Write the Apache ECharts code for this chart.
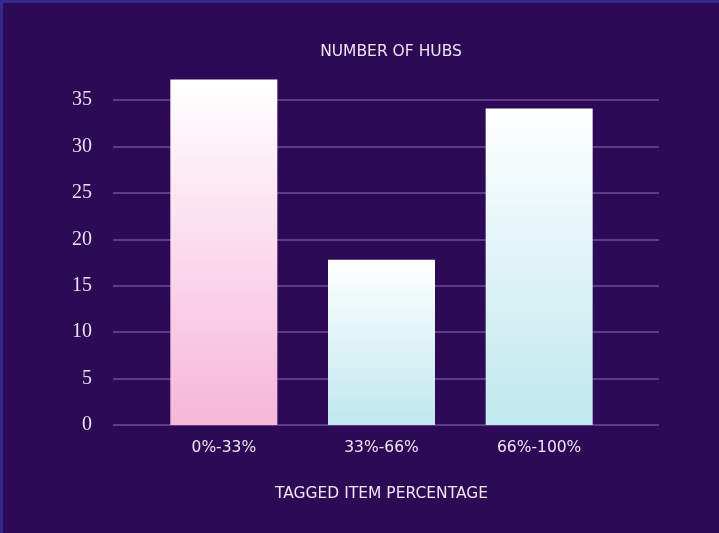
<!DOCTYPE html>
<html>
<head>
<meta charset="utf-8">
<script src="https://cdn.jsdelivr.net/npm/echarts@6/dist/echarts.min.js"></script>
<style>
  html, body { margin: 0; padding: 0; background: #2c0a55; }
  #hubsChart {
    width: 716px; height: 530px;
    border-left: 3px solid #33288f;
    border-top: 3px solid #33288f;
    background: #2c0a55;
  }
</style>
</head>
<body>
<div id="hubsChart"></div>
<script>
// data
const categories = ["0%-33%", "33%-66%", "66%-100%"];
const hubCounts = [37.2, 17.8, 34.1];
const yTicks = [0, 5, 10, 15, 20, 25, 30, 35];

// bar fills: white at the top, tint at the bottom
const barBottoms = ["#f6b6d9", "#bfe8ee", "#bfe8ee"];

let hubsChart = echarts.init(document.getElementById("hubsChart"));

let textFont = "DejaVu Sans";

let option = {
  backgroundColor: "#2c0a55",
  animation: false,
  title: {
    text: "NUMBER OF HUBS",
    left: 383,
    top: 36,
    textAlign: "center",
    textStyle: {
      color: "#f1e4f3",
      fontFamily: textFont,
      fontWeight: "normal",
      fontSize: 15.5,
    },
  },
  // grid 0 carries the gridlines, grid 1 the bars (taller so bars can pass 35)
  grid: [
    { left: 110, width: 546, top: 97, height: 325 },
    { left: 142, width: 473, top: 50.6, height: 371.4 },
  ],
  xAxis: [
    {
      gridIndex: 0,
      type: "value",
      min: 0,
      max: 1,
      show: false,
    },
    {
      gridIndex: 1,
      type: "category",
      data: categories,
      axisLine: { show: false },
      axisTick: { show: false },
      axisLabel: {
        color: "#f1e4f3",
        fontFamily: textFont,
        fontSize: 15.5,
        margin: 15,
      },
      name: "TAGGED ITEM PERCENTAGE",
      nameLocation: "middle",
      nameGap: 61,
      nameTextStyle: {
        color: "#f1e4f3",
        fontFamily: textFont,
        fontSize: 15.5,
      },
    },
  ],
  yAxis: [
    {
      gridIndex: 0,
      type: "value",
      min: yTicks[0],
      max: yTicks[yTicks.length - 1],
      interval: 5,
      axisLine: { show: false },
      axisTick: { show: false },
      axisLabel: {
        color: "#e9e0f0",
        fontFamily: "Liberation Serif",
        fontSize: 20,
        margin: 21,
      },
      splitLine: {
        lineStyle: { color: "#6b4f93", width: 1.5 },
      },
    },
    {
      gridIndex: 1,
      type: "value",
      min: 0,
      max: 40,
      interval: 5,
      show: false,
      splitLine: { show: false },
    },
  ],
  series: [
    {
      name: "Hubs",
      type: "bar",
      xAxisIndex: 1,
      yAxisIndex: 1,
      barWidth: 107,
      data: hubCounts.map(function (v, i) {
        return {
          value: v,
          itemStyle: {
            color: new echarts.graphic.LinearGradient(0, 0, 0, 1, [
              { offset: 0, color: "#ffffff" },
              { offset: 1, color: barBottoms[i] },
            ]),
          },
        };
      }),
    },
  ],
};
hubsChart.setOption(option);
</script>
</body>
</html>
